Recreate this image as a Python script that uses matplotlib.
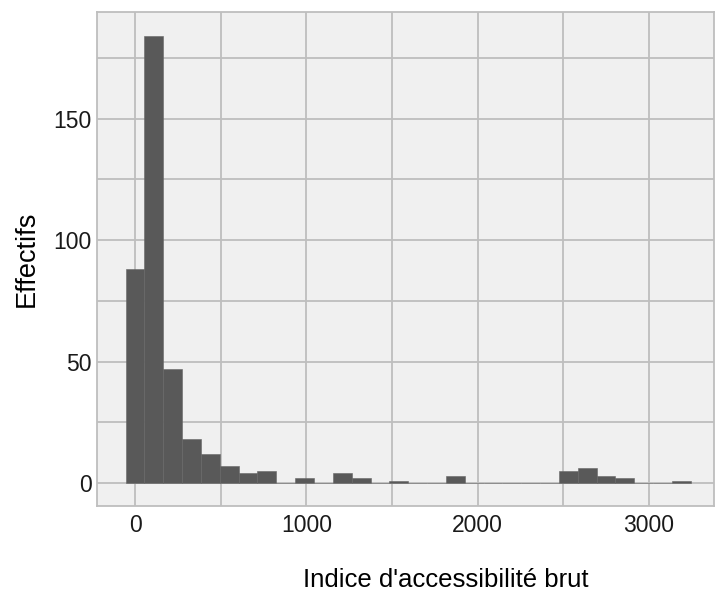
import numpy as np
import matplotlib.pyplot as plt

plt.rcParams['font.family'] = ['Liberation Sans', 'DejaVu Sans']

# histogram: 30 bins, width ~110, first bin centred on 0
bin_width = 110
counts = [88, 184, 47, 18, 12, 7, 4, 5, 0, 2,
          0, 4, 2, 0, 1, 0, 0, 3, 0, 0,
          0, 0, 0, 5, 6, 3, 2, 0, 0, 1]
centers = np.arange(len(counts)) * bin_width

x_major = [0, 1000, 2000, 3000]
x_minor = [500, 1500, 2500]
y_major = [0, 50, 100, 150]
y_minor = [25, 75, 125, 175]

fig = plt.figure(figsize=(7.16, 5.94), dpi=100)
ax = fig.add_axes([0.1355, 0.148, 0.8615, 0.832])
ax.set_facecolor('#F0F0F0')

grid_col = '#BEBEBE'
for v in x_major + x_minor:
    ax.axvline(v, color=grid_col, lw=1.3, zorder=0)
for v in y_major + y_minor:
    ax.axhline(v, color=grid_col, lw=1.3, zorder=0)

ax.bar(centers, counts, width=bin_width, color='#595959',
       edgecolor='#666666', linewidth=0.4, zorder=2)

ax.set_xlim(-222, 3380)
ax.set_ylim(-9.5, 194)
ax.set_xticks(x_major)
ax.set_yticks(y_major)
ax.tick_params(length=0, labelsize=16.5, colors='#1a1a1a')
ax.tick_params(axis='x', pad=6)
ax.tick_params(axis='y', pad=4)
for s in ax.spines.values():
    s.set_color(grid_col)
    s.set_linewidth(1.3)

ax.set_xlabel("Indice d'accessibilité brut", fontsize=18.5, labelpad=22)
ax.xaxis.label.set_x(0.566)
ax.set_ylabel("Effectifs", fontsize=19.5, labelpad=10)

fig.savefig('out.png', dpi=100, facecolor='white')
